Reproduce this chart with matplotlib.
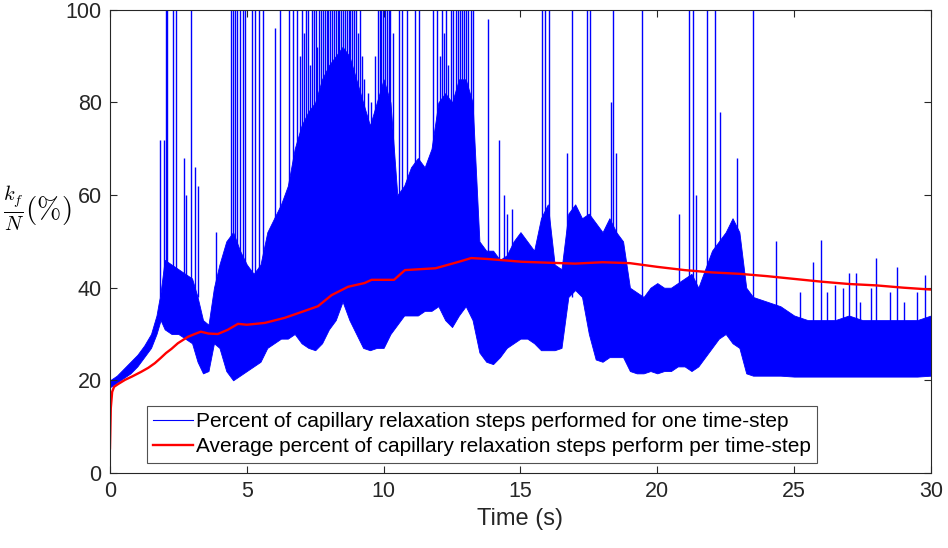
import numpy as np
import matplotlib
matplotlib.use("Agg")
import matplotlib.pyplot as plt
from matplotlib.lines import Line2D

plt.rcParams['font.family'] = ['Liberation Sans', 'DejaVu Sans']
plt.rcParams['mathtext.fontset'] = 'cm'

# dense blue signal: lower / upper edge of the solid band
band_t = [0.0, 0.25, 0.5, 0.75, 1.0, 1.25, 1.5, 1.7, 1.85, 2.0, 2.25, 2.5, 2.75, 3.0,
          3.2, 3.4, 3.6, 3.8, 4.0, 4.25, 4.5, 4.75, 5.0, 5.25, 5.5, 5.75, 6.0, 6.25,
          6.5, 6.75, 7.0, 7.25, 7.5, 7.75, 8.0, 8.25, 8.5, 8.75, 9.0, 9.25, 9.5, 9.75,
          10.0, 10.25, 10.5, 10.75, 11.0, 11.25, 11.5, 11.75, 12.0, 12.25, 12.5, 12.75,
          13.0, 13.25, 13.5, 13.75, 14.0, 14.25, 14.5, 14.75, 15.0, 15.25, 15.5, 15.75,
          16.0, 16.25, 16.5, 16.75, 17.0, 17.25, 17.5, 17.75, 18.0, 18.25, 18.5, 18.75,
          19.0, 19.25, 19.5, 19.75, 20.0, 20.25, 20.5, 20.75, 21.0, 21.25, 21.5, 21.75,
          22.0, 22.25, 22.5, 22.75, 23.0, 23.25, 23.5, 24.0, 24.5, 25.0, 25.5, 26.0,
          26.5, 27.0, 27.5, 28.0, 28.5, 29.0, 29.5, 30.0]
band_lo = [18.5, 19.5, 20.5, 21.5, 23, 25, 27, 30, 33, 31, 30, 30, 29, 28,
           24, 21.5, 22, 28, 27, 22, 20, 21, 22, 23, 24, 27, 28, 29,
           29, 30, 28, 27, 26.5, 28, 31, 33, 37, 33, 30, 27, 26.5, 27,
           27, 30, 32, 34, 34, 34, 35, 35, 36, 33, 31.5, 34,
           36, 33, 26, 24, 23.5, 25, 27, 28, 29, 29, 28, 26.5,
           26.5, 26.5, 27, 38, 39.5, 38, 30, 24.5, 24, 25, 25, 25,
           22, 21.5, 21.5, 22, 21.5, 22, 22, 23, 23, 22, 23, 25,
           27, 29, 30, 28, 27, 21.5, 21, 21, 21, 20.8, 20.8, 20.8,
           20.8, 20.8, 20.8, 20.8, 20.8, 20.8, 20.8, 21]
band_hi = [20, 21, 22.5, 24, 25.5, 27.5, 30, 34, 39, 46, 45, 44, 43, 42,
           38, 33, 32, 40, 45, 50, 52, 48, 45, 43, 45, 52, 55, 58,
           62, 70, 75, 78, 80, 85, 88, 90, 92, 90, 85, 80, 75, 80,
           85, 80, 60, 62, 66, 68, 66, 70, 80, 82, 80, 85,
           85, 80, 50, 48, 48, 46, 47, 50, 52, 50, 48, 55,
           58, 45, 44, 56, 58, 55, 56, 54, 52, 55, 52, 50,
           40, 39, 38, 40, 41, 40, 40, 41, 42, 43, 40, 44,
           48, 50, 52, 55, 52, 40, 38, 37, 36, 34, 33, 33,
           33, 34, 33, 33, 33, 33, 33, 34]

# isolated spikes above the band
spike_t = [1.82, 1.97, 2.03, 2.09, 2.32, 2.40, 2.70, 2.78, 2.95, 3.10, 3.20, 3.87,
           4.42, 4.50, 4.58, 4.65, 4.75, 4.85, 4.95, 5.18, 5.30, 5.45, 5.60, 6.03,
           6.20, 6.55, 6.70, 6.85,
           6.95, 7.03, 7.10, 7.18, 7.25, 7.31, 7.38, 7.45, 7.52, 7.58, 7.65, 7.72,
           7.78, 7.85, 7.92, 7.98, 8.05, 8.12, 8.18, 8.25, 8.32, 8.38, 8.45, 8.52,
           8.58, 8.65, 8.72, 8.78, 8.85, 8.92, 8.98, 9.05, 9.12, 9.20, 9.30, 9.42,
           9.55, 9.68, 9.78, 9.85, 9.92, 9.98, 10.05, 10.12, 10.18, 10.25, 10.35,
           10.55, 10.67, 10.85, 11.14, 11.30, 11.80, 11.95,
           12.05, 12.12, 12.20, 12.28, 12.36, 12.45, 12.55, 12.65, 12.72, 12.80,
           12.88, 12.95, 13.02, 13.10, 13.18, 13.25,
           13.80, 14.20, 14.40, 14.50, 14.70, 15.80, 15.90, 16.05, 16.70, 16.90,
           17.45, 17.55, 18.30, 18.40, 18.50, 19.45, 20.80, 21.15, 21.30, 21.40,
           21.80, 22.10, 22.30, 22.90, 23.50, 24.33, 25.20, 25.70, 25.98, 26.20,
           26.50, 26.80, 27.00, 27.25, 27.40, 27.80, 28.00, 28.50, 28.75, 29.00,
           29.50, 29.80]
spike_top = [72, 72, 100, 100, 100, 100, 68, 60, 100, 66, 62, 52,
             100, 100, 100, 100, 100, 100, 100, 100, 100, 100, 100, 96,
             100, 100, 100, 100,
             90, 100, 95, 100, 100, 88, 100, 100, 100, 92, 100, 100,
             100, 100, 100, 100, 100, 100, 100, 100, 100, 100, 100, 100,
             100, 100, 100, 100, 100, 100, 100, 95, 100, 90, 85, 82,
             80, 90, 100, 100, 100, 100, 100, 100, 100, 100, 95,
             100, 100, 100, 100, 100, 100, 100,
             90, 100, 95, 100, 88, 100, 100, 100, 100, 100,
             100, 100, 100, 100, 100, 100,
             98, 72, 60, 56, 57, 100, 100, 100, 69, 100,
             100, 100, 80, 100, 69, 100, 56, 100, 100, 60,
             100, 100, 78, 68, 100, 50, 39, 45.6, 50.3, 39,
             40.6, 40, 43.2, 43.2, 37, 40, 46.4, 39, 44.5, 37,
             39, 42.8]

# running average (red)
avg_t = [0, 0.03, 0.08, 0.15, 0.3, 0.55, 0.8, 1.13, 1.4, 1.64, 1.85, 2.05, 2.25, 2.48,
         2.85, 3.1, 3.32, 3.6, 3.94, 4.3, 4.68, 5.0, 5.66, 6.39, 7.12, 7.6, 8.1, 8.7,
         9.3, 9.56, 10.38, 10.78, 11.9, 12.75, 13.2, 13.8, 15.05, 16, 17, 18, 19, 20,
         21, 22, 23, 24, 25, 26, 27, 28, 29, 30]
avg_v = [5.3, 14, 17.5, 18.6, 19.2, 20.1, 20.8, 21.8, 22.7, 23.7, 24.8, 25.9, 26.8, 28,
         29.4, 30, 30.5, 30.1, 30, 30.9, 32.2, 32, 32.4, 33.5, 35, 36, 38.4, 40.2,
         41, 41.7, 41.7, 43.8, 44.2, 45.6, 46.4, 46.2, 45.6, 45.4, 45.2, 45.5, 45.3, 44.5,
         43.8, 43.3, 43, 42.5, 41.9, 41.3, 40.8, 40.5, 40, 39.6]

fig = plt.figure(figsize=(9.48, 5.48), dpi=100)
ax = fig.add_axes([0.116, 0.137, 0.866, 0.845])

blue = '#0000FF'
ax.fill_between(band_t, band_lo, band_hi, color=blue, linewidth=0.6, edgecolor=blue)
# spikes start inside the band so nothing pokes out below it
st = np.array(spike_t)
base = np.where(st < 24, 38, 32)
ax.vlines(st, base, spike_top, color=blue, linewidth=1.0)
ax.plot(avg_t, avg_v, color='#FF0000', linewidth=1.7)

ax.set_xlim(0, 30)
ax.set_ylim(0, 100)
ax.set_xticks([0, 5, 10, 15, 20, 25, 30])
ax.set_yticks([0, 20, 40, 60, 80, 100])
ax.tick_params(direction='in', top=True, right=True, labelsize=15.5, length=5,
               color='#262626', labelcolor='#262626', pad=6)
for s in ax.spines.values():
    s.set_color('#262626')
    s.set_linewidth(0.8)

ax.set_xlabel('Time (s)', fontsize=17, color='#262626', labelpad=4)
ax.text(-0.13, 0.57, r'$\frac{k_f}{N}(\%)$', transform=ax.transAxes,
        fontsize=21, ha='left', va='center')

handles = [Line2D([], [], color=blue, linewidth=0.8),
           Line2D([], [], color='#FF0000', linewidth=1.7)]
labels = ['Percent of capillary relaxation steps performed for one time-step',
          'Average percent of capillary relaxation steps perform per time-step']
leg = ax.legend(handles, labels, loc='lower left', bbox_to_anchor=(0.045, 0.022),
                fontsize=15, frameon=True, fancybox=False, handlelength=1.9,
                handletextpad=0.15, borderpad=0.3, labelspacing=0.3, borderaxespad=0)
leg.get_frame().set_edgecolor('#262626')
leg.get_frame().set_linewidth(0.8)

fig.savefig('out.png', dpi=100)
